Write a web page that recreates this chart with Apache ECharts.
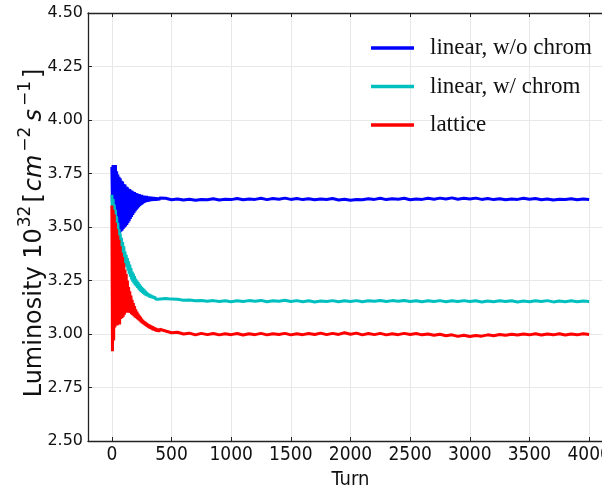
<!DOCTYPE html>
<html><head><meta charset="utf-8">
<script src="https://cdn.jsdelivr.net/npm/echarts@6/dist/echarts.min.js"></script>
<style>html,body{margin:0;padding:0;background:#fff}#c{width:602px;height:490px}</style>
</head><body><div id="c"></div>
<script>
var turns = [0,5,10,15,20,25,30,35,40,45,50,55,60,65,70,75,80,85,90,95,100,105,110,115,120,125,130,135,140,145,150,155,160,165,170,175,180,185,190,195,
200,205,210,215,220,225,230,235,240,245,250,255,260,265,270,275,280,285,290,295,300,305,310,315,320,325,330,335,340,345,350,355,360,365,370,375,380,385,390,395,400,
450,500,550,600,650,700,750,800,850,900,950,1000,1050,1100,1150,1200,1250,1300,1350,1400,1450,1500,1550,1600,1650,1700,1750,1800,1850,1900,1950,2000,
2050,2100,2150,2200,2250,2300,2350,2400,2450,2500,2550,2600,2650,2700,2750,2800,2850,2900,2950,3000,3050,3100,3150,3200,3250,3300,3350,3400,3450,3500,3550,3600,
3650,3700,3750,3800,3850,3900,3950,4000];
var linearNoChrom = [
3.78,3.60,3.79,3.55,3.74,3.51,3.79,3.49,3.76,3.475,3.745,3.47,3.735,3.472,3.728,3.478,3.716,3.482,3.712,3.49,
3.701,3.497,3.698,3.503,3.689,3.51,3.686,3.518,3.679,3.527,3.677,3.537,3.671,3.547,3.669,3.556,3.664,3.565,3.663,3.573,
3.659,3.58,3.658,3.587,3.654,3.593,3.654,3.598,3.65,3.603,3.65,3.607,3.646,3.611,3.647,3.614,3.644,3.616,3.645,3.618,
3.642,3.619,3.643,3.62,3.64,3.621,3.641,3.622,3.639,3.622,3.64,3.623,3.638,3.623,3.639,3.624,3.637,3.624,3.638,3.625,3.636,
3.634,3.627,3.631,3.626,3.630,3.625,3.629,3.627,
3.632,3.626,3.630,3.628,3.633,3.627,3.631,3.629,
3.634,3.628,3.633,3.630,3.635,3.629,3.633,3.628,
3.632,3.627,3.631,3.629,3.633,3.626,3.630,3.625,
3.629,3.627,3.632,3.629,3.634,3.628,3.632,3.630,
3.634,3.627,3.631,3.629,3.634,3.630,3.635,3.631,
3.636,3.630,3.634,3.631,3.635,3.629,3.633,3.628,
3.632,3.627,3.631,3.629,3.634,3.630,3.633,3.627,
3.631,3.626,3.630,3.628,3.632,3.627,3.631,3.628];
var linearChrom = [
3.65,3.58,3.63,3.558,3.605,3.532,3.58,3.505,3.55,3.475,3.52,3.445,3.49,3.42,3.47,3.40,3.45,3.38,3.43,3.36,
3.41,3.345,3.385,3.327,3.37,3.312,3.355,3.297,3.34,3.282,3.325,3.268,3.308,3.255,3.292,3.245,3.282,3.236,3.27,3.228,
3.258,3.222,3.25,3.215,3.242,3.209,3.234,3.203,3.226,3.197,3.22,3.192,3.214,3.188,3.208,3.184,3.202,3.18,3.197,3.177,
3.192,3.175,3.188,3.172,3.185,3.17,3.182,3.168,3.179,3.166,3.177,3.165,3.175,3.164,3.173,3.163,3.171,3.162,3.17,3.162,3.169,
3.166,3.163,3.162,3.158,3.159,3.155,3.157,3.153,
3.156,3.152,3.155,3.151,3.155,3.152,3.156,3.153,
3.157,3.151,3.155,3.153,3.158,3.152,3.156,3.151,
3.155,3.150,3.154,3.152,3.156,3.151,3.155,3.152,
3.156,3.151,3.155,3.153,3.157,3.152,3.156,3.153,
3.157,3.152,3.155,3.151,3.155,3.152,3.156,3.151,
3.155,3.152,3.156,3.152,3.155,3.150,3.154,3.151,
3.155,3.152,3.155,3.150,3.154,3.151,3.155,3.152,
3.156,3.150,3.154,3.151,3.155,3.151,3.154,3.152];
var lattice = [
3.60,2.92,3.58,2.97,3.56,3.03,3.52,3.05,3.49,3.04,3.46,3.06,3.44,3.045,3.41,3.07,3.38,3.075,3.36,3.08,
3.33,3.09,3.30,3.10,3.28,3.10,3.25,3.105,3.22,3.10,3.20,3.098,3.18,3.092,3.16,3.088,3.145,3.083,3.13,3.078,
3.115,3.074,3.105,3.07,3.095,3.065,3.087,3.06,3.08,3.055,3.072,3.05,3.066,3.046,3.06,3.042,3.056,3.038,3.052,3.034,
3.048,3.03,3.045,3.027,3.042,3.024,3.039,3.021,3.036,3.018,3.033,3.016,3.03,3.014,3.028,3.012,3.026,3.011,3.024,3.01,3.022,
3.014,3.006,3.008,3.000,3.004,2.996,3.003,2.997,
3.002,2.996,3.001,2.997,3.002,2.995,3.001,2.997,
3.003,2.996,3.001,2.998,3.003,2.996,3.001,2.997,
3.002,2.998,3.004,2.997,3.003,2.998,3.006,2.999,
3.004,2.996,3.002,2.997,3.003,2.996,3.001,2.997,
3.003,2.998,3.002,2.996,3.000,2.994,2.999,2.992,
2.996,2.989,2.994,2.988,2.993,2.990,2.996,2.992,
2.998,2.994,2.999,2.995,3.000,2.996,3.001,2.995,
3.000,2.996,3.001,2.995,3.000,2.996,3.001,2.998];
var seriesNames = ['linear, w/o chrom', 'linear, w/ chrom', 'lattice'];
var seriesColors = ['#0000ff', '#00bfbf', '#ff0000'];
var xTicks = [0,500,1000,1500,2000,2500,3000,3500,4000];

function pts(vals){ return turns.map(function(t,i){ return [t, vals[i]]; }); }
var allVals = [linearNoChrom, linearChrom, lattice];

var chart = echarts.init(document.getElementById('c'), null, {renderer:'canvas'});
var axisCol = '#222';
var gridCol = '#e8e8e8';
var narrow = "'DejaVu Sans Condensed', 'Liberation Sans Narrow', 'DejaVu Sans', sans-serif";
chart.setOption({
  backgroundColor: '#ffffff',
  animation: false,
  grid: {left: 88, top: 13, width: 525, height: 428, outerBoundsMode: 'none', containLabel: false},
  legend: {
    orient: 'vertical', left: 366, top: 31,
    icon: 'rect', itemWidth: 43, itemHeight: 3.5, itemGap: 14.5,
    data: seriesNames,
    textStyle: {fontFamily: "'Liberation Serif', 'DejaVu Serif', serif", fontSize: 23, color: '#111', lineHeight: 24, padding: [0,0,0,11]}
  },
  xAxis: [{
    type: 'value', position: 'bottom', min: -200, max: 4200,
    name: 'Turn', nameLocation: 'middle', nameGap: 29, nameMoveOverlap: false,
    nameTextStyle: {fontFamily: narrow, fontSize: 20, color: '#111'},
    axisLine: {show: true, onZero: false, lineStyle: {color: axisCol, width: 1.3}},
    axisTick: {show: true, inside: true, length: 4, customValues: xTicks, lineStyle: {color: axisCol}},
    axisLabel: {customValues: xTicks, fontFamily: narrow, fontSize: 19, color: '#111', margin: 5,
      formatter: function(v){ return String(v); }},
    splitLine: {show: true, lineStyle: {color: gridCol, width: 1}}
  }, {
    type: 'value', position: 'top', min: -200, max: 4200,
    axisLine: {show: true, onZero: false, lineStyle: {color: axisCol, width: 1.3}},
    axisTick: {show: true, inside: true, length: 4, customValues: xTicks, lineStyle: {color: axisCol}},
    axisLabel: {show: false},
    splitLine: {show: false}
  }],
  yAxis: {
    type: 'value', min: 2.5, max: 4.5, interval: 0.25,
    name: '{m|Luminosity 10}{s|32}{m|[}{i|cm}{s|\u22122}{i|s}{s|\u22121}{m|]}',
    nameLocation: 'middle', nameGap: 41, nameRotate: 90, nameMoveOverlap: false,
    nameTextStyle: {
      padding: [0, 12, 0, 0],
      rich: {
        m: {fontFamily: 'DejaVu Sans', fontSize: 24, color: '#111', lineHeight: 30, verticalAlign: 'bottom'},
        i: {fontFamily: 'DejaVu Sans', fontStyle: 'italic', fontSize: 24, color: '#111', lineHeight: 30, verticalAlign: 'bottom', padding: [0,2,0,2]},
        s: {fontFamily: 'DejaVu Sans', fontSize: 17, color: '#111', lineHeight: 17, verticalAlign: 'top', padding: [0,3,0,1]}
      }
    },
    axisLine: {show: true, onZero: false, lineStyle: {color: axisCol, width: 1.3}},
    axisTick: {show: true, inside: true, length: 4, lineStyle: {color: axisCol}},
    axisLabel: {fontFamily: 'DejaVu Sans', fontSize: 16, color: '#111', margin: 5,
      formatter: function(v){ return v.toFixed(2); }},
    splitLine: {show: true, lineStyle: {color: gridCol, width: 1}}
  },
  series: allVals.map(function(vals, k){
    return {
      type: 'line', name: seriesNames[k], data: pts(vals),
      showSymbol: false, symbol: 'none', clip: true,
      lineStyle: {color: seriesColors[k], width: 3},
      itemStyle: {color: seriesColors[k]}
    };
  })
});
</script></body></html>
